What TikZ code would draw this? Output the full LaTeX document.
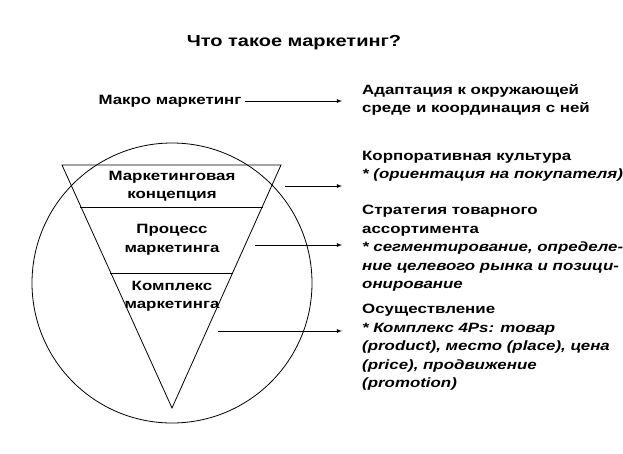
\documentclass[tikz,border=0pt]{standalone}
\usepackage{fontspec}
\setmainfont{Liberation Sans}[FakeStretch=1.25]
\begin{document}
\begin{tikzpicture}[x=1pt,y=-1pt,
  txt/.style={font=\fontsize{13.5}{18.5}\selectfont\bfseries,inner sep=0pt},
  rt/.style={txt,anchor=north west,align=left},
  arr/.style={-latex,line width=0.8pt},
  ln/.style={line width=0.8pt}]
\useasboundingbox (0,0) rectangle (623,453);
\node[txt,font=\fontsize{16}{18}\selectfont\bfseries] (title) at (294,43) {Что такое маркетинг?};
\node[ln,draw,circle,minimum size=280pt,inner sep=0pt] (circ) at (172,283) {};
\coordinate (tl) at (62,165); \coordinate (tr) at (281,165); \coordinate (ap) at (172,408);
\draw[ln] (tl) -- (tr) -- (ap) -- cycle;
\draw[ln] (80,207) -- (263,207);
\draw[ln] (110,273) -- (233,273);
\node[txt,align=center] (c1) at (172,186) {Маркетинговая\\концепция};
\node[txt,align=center] (c2) at (172,240) {Процесс\\маркетинга};
\node[txt,align=center] (c3) at (172,296) {Комплекс\\маркетинга};
\node[txt] (macro) at (170,101) {Макро маркетинг};
\coordinate (a0) at (245,101); \coordinate (b0) at (342,101);
\coordinate (a1) at (285,186); \coordinate (b1) at (342,186);
\coordinate (a2) at (255,245); \coordinate (b2) at (342,245);
\coordinate (a3) at (218,331); \coordinate (b3) at (342,331);
\draw[arr] (a0) -- (b0); \draw[arr] (a1) -- (b1);
\draw[arr] (a2) -- (b2); \draw[arr] (a3) -- (b3);
\node[rt] (r0) at (362,84) {Адаптация к окружающей\\среде и координация с ней};
\node[rt] (r1) at (362,151) {Корпоративная культура\\\itshape * (ориентация на покупателя)};
\node[rt] (r2) at (362,205) {Стратегия товарного\\ассортимента\\\itshape * сегментирование, определе-\\\itshape ние целевого рынка и позици-\\\itshape онирование};
\node[rt] (r3) at (362,304) {Осуществление\\\itshape * Комплекс 4Ps: товар\\\itshape (product), место (place), цена\\\itshape (price), продвижение\\\itshape (promotion)};
\end{tikzpicture}
\end{document}
